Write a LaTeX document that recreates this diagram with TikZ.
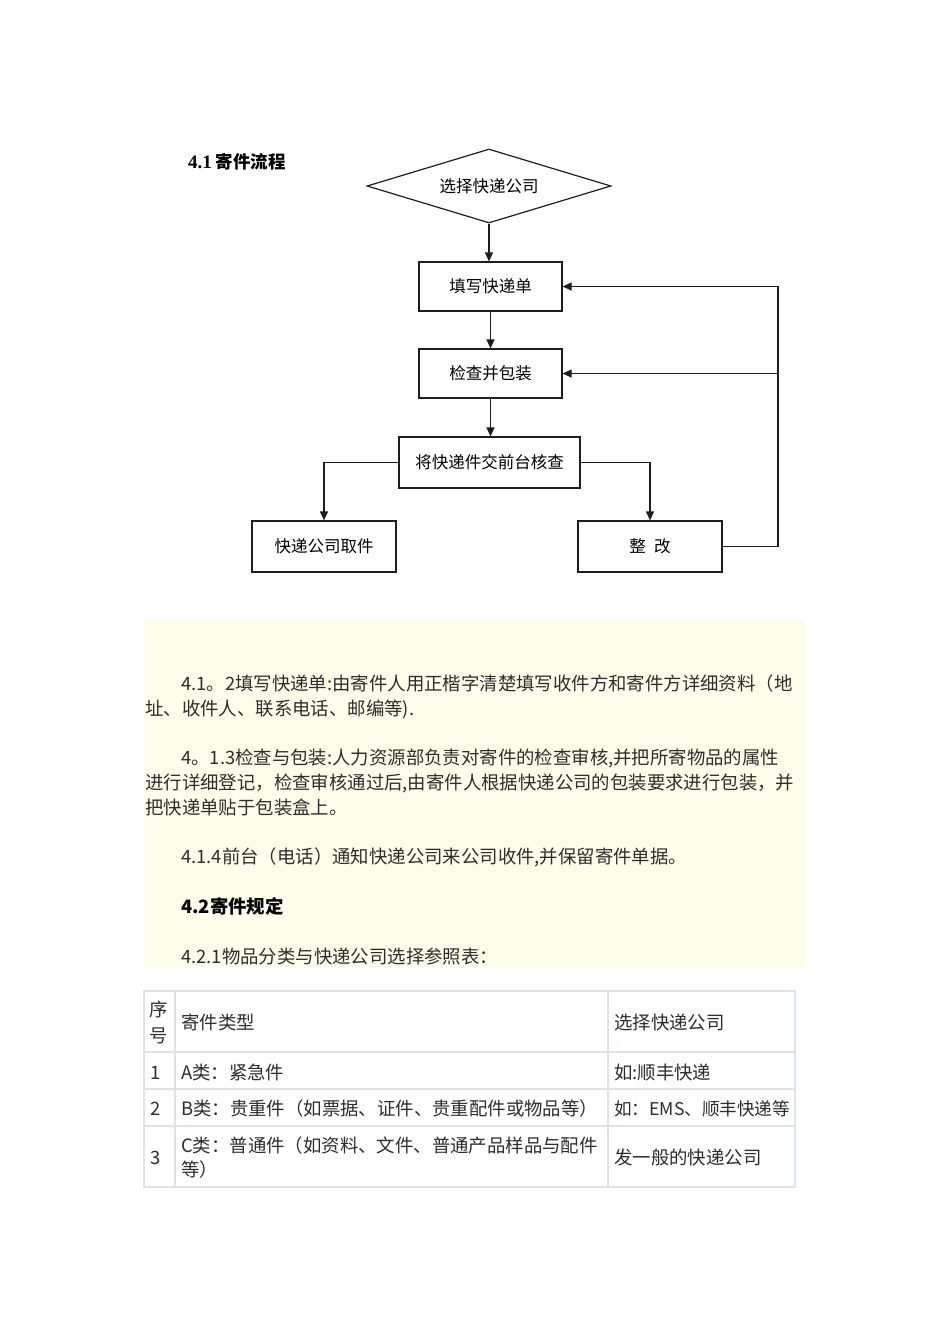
\documentclass[tikz,border=0pt]{standalone}
\usepackage{fontspec}
\setmainfont{Noto Sans CJK SC}
\newfontfamily\tnr{Liberation Serif}
\usetikzlibrary{shapes.geometric,arrows.meta}
\definecolor{yel}{RGB}{254,253,234}
\definecolor{tbl}{RGB}{220,227,234}
\definecolor{txt}{RGB}{45,45,45}
\definecolor{ln}{RGB}{30,30,30}
\tikzset{
  box/.style={draw=ln, line width=1.2pt, minimum width=143pt, minimum height=49pt, inner sep=0pt, font=\fontsize{16.5}{18}\selectfont},
  arr/.style={draw=ln, line width=1.2pt, -{Triangle[length=9pt,width=8pt]}},
  para/.style={anchor=base west, inner sep=0pt, text=txt, font=\fontsize{18.4}{20}\selectfont},
  cell/.style={anchor=base west, inner sep=0pt, text=txt, font=\fontsize{18.4}{20}\selectfont},
  tline/.style={draw=tbl, line width=1.6pt}
}
\begin{document}
\begin{tikzpicture}[x=1pt,y=-1pt]
\useasboundingbox[fill=white] (0,0) rectangle (950,1344);

% title
\node[anchor=base west, inner sep=0pt, font=\fontsize{17.5}{20}\selectfont] (t41) at (188,168) {{\tnr\bfseries\fontsize{19}{20}\selectfont 4.1} \bfseries 寄件流程};

% flowchart
\node[diamond, draw=ln, line width=1.2pt, aspect=3.34, minimum width=244pt, minimum height=74pt, inner sep=0pt, font=\fontsize{16.5}{18}\selectfont] (dia) at (489,186) {选择快递公司};
\node[box] (b1) at (490.5,286.5) {填写快递单};
\node[box] (b2) at (490.5,373.5) {检查并包装};
\node[box, minimum width=181pt, minimum height=51pt] (b3) at (489.5,462.5) {将快递件交前台核查};
\node[box, minimum width=144pt, minimum height=51pt] (b4) at (324,546.5) {快递公司取件};
\node[box, minimum width=144pt, minimum height=51pt] (b5) at (650,546.5) {整\hspace{0.5em}改};
\coordinate (rx) at (778,547);

\draw[arr] (dia.south) -- (dia.south |- b1.north);
\draw[arr] (b1.south) -- (b2.north);
\draw[arr] (b2.south) -- (b2.south |- b3.north);
\draw[arr] (b3.west) -| (b4.north);
\draw[arr] (b3.east) -| (b5.north);
\draw[arr] (b5.east) -| (rx |- b1.east) -- (b1.east);
\draw[arr] (rx |- b2.east) -- (b2.east);

% yellow text block
\fill[yel] (143,619) rectangle (806,967);
\node[para] (p1) at (181,690.5) {4.1。2填写快递单:由寄件人用正楷字清楚填写收件方和寄件方详细资料（地};
\node[para] (p2) at (145,715.5) {址、收件人、联系电话、邮编等).};
\node[para] (p3) at (181,764.5) {4。1.3检查与包装:人力资源部负责对寄件的检查审核,并把所寄物品的属性};
\node[para] (p4) at (145,789.5) {进行详细登记，检查审核通过后,由寄件人根据快递公司的包装要求进行包装，并};
\node[para] (p5) at (145,814.5) {把快递单贴于包装盒上。};
\node[para] (p6) at (181,863.5) {4.1.4前台（电话）通知快递公司来公司收件,并保留寄件单据。};
\node[para, font=\fontsize{18.4}{20}\selectfont\bfseries, text=black] (p7) at (181,913.5) {4.2寄件规定};
\node[para] (p8) at (181,963.5) {4.2.1物品分类与快递公司选择参照表：};

% table
\draw[tline] (144,991) rectangle (795,1187);
\draw[tline] (144,1052) -- (795,1052);
\draw[tline] (144,1089) -- (795,1089);
\draw[tline] (144,1126) -- (795,1126);
\draw[tline] (175,991) -- (175,1187);
\draw[tline] (608,991) -- (608,1187);

\node[cell] (h1a) at (149,1016.5) {序};
\node[cell] (h1b) at (149,1042.5) {号};
\node[cell] (h2) at (181,1029.5) {寄件类型};
\node[cell] (h3) at (614,1029.5) {选择快递公司};

\node[cell] (r1a) at (150,1079.5) {1};
\node[cell] (r1b) at (181,1079.5) {A类：紧急件};
\node[cell] (r1c) at (614,1079.5) {如:顺丰快递};

\node[cell] (r2a) at (150,1115.5) {2};
\node[cell] (r2b) at (181,1115.5) {B类：贵重件（如票据、证件、贵重配件或物品等）};
\node[cell, font=\fontsize{17.6}{20}\selectfont] (r2c) at (614,1115.5) {如：EMS、顺丰快递等};

\node[cell] (r3a) at (150,1164.5) {3};
\node[cell] (r3b) at (181,1152.5) {C类：普通件（如资料、文件、普通产品样品与配件};
\node[cell] (r3c) at (181,1176.5) {等）};
\node[cell] (r3d) at (614,1164.5) {发一般的快递公司};
\end{tikzpicture}
\end{document}
